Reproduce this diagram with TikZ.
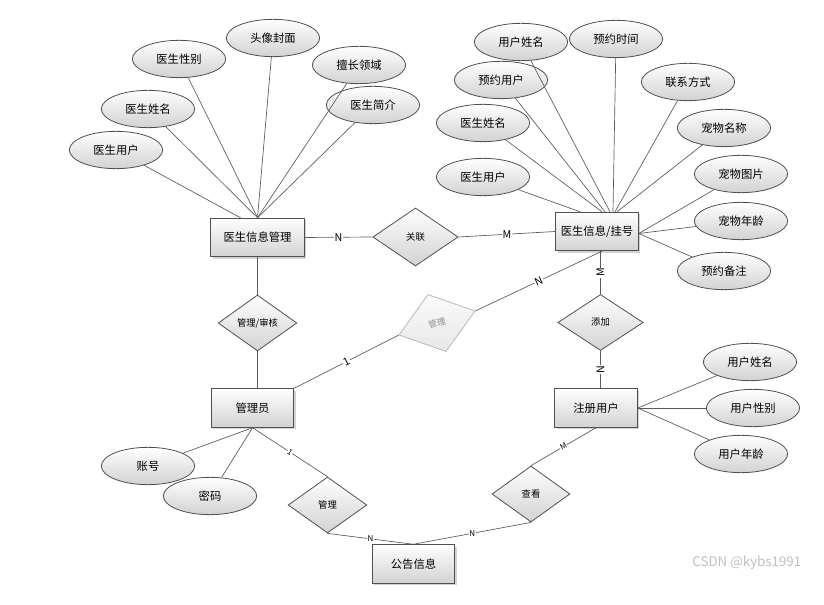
\documentclass[tikz,border=0pt]{standalone}
\usepackage{fontspec}
\setmainfont{Noto Sans CJK SC}
\usetikzlibrary{shapes.geometric,shadows,calc}
\definecolor{ln}{HTML}{5A5A5A}
\definecolor{bd}{HTML}{505050}
\definecolor{shd}{HTML}{D2D2D2}
\tikzset{
  ent/.style={rectangle, draw=bd, line width=0.6pt, top color=white, bottom color=shd,
    minimum width=62pt, minimum height=29pt, inner sep=1pt, font=\fontsize{8.5}{10}\selectfont,
    drop shadow={shadow xshift=1.5pt, shadow yshift=-1.5pt, opacity=0.35, fill=gray}},
  attr/.style={ellipse, draw=bd, line width=0.6pt, top color=white, bottom color=shd,
    minimum width=70pt, minimum height=28pt, inner sep=0pt, font=\fontsize{8.5}{10}\selectfont},
  rel/.style={diamond, draw=bd, line width=0.6pt, top color=white, bottom color=shd,
    minimum width=63pt, minimum height=42pt, inner sep=0pt, font=\fontsize{7}{8}\selectfont},
  con/.style={draw=ln, line width=0.5pt},
  lbl/.style={fill=white, inner sep=0.6pt, font=\fontsize{8}{9}\selectfont},
  lbls/.style={fill=white, inner sep=0.4pt, font=\fontsize{6}{7}\selectfont},
  x=0.75pt, y=-0.75pt
}
\begin{document}
\begin{tikzpicture}
\useasboundingbox (0,0) rectangle (824,605);
% entities
\node[ent, minimum width=70pt] (dm) at (257.5,237.5) {医生信息管理};
\node[ent] (dr) at (597,231.5) {医生信息/挂号};
\node[ent] (admin) at (252.5,408) {管理员};
\node[ent] (zr) at (596,408) {注册用户};
\node[ent] (gg) at (413.5,564) {公告信息};
% relationships
\node[rel, minimum width=64pt, minimum height=43.5pt] (gl) at (415.5,237) {关联};
\node[rel, minimum width=59pt] (sh) at (257.5,323) {管理/审核};
\node[rel, minimum width=64pt] (tj) at (600.5,322.5) {添加};
\node[rel, minimum width=59pt] (mb) at (327.5,505) {管理};
\node[rel, minimum width=58.5pt] (ck) at (531,494) {查看};
\node[rel, rotate=17.5, draw=gray!55, top color=gray!4, bottom color=gray!18, text=gray!90,
      minimum width=60pt, minimum height=45pt, font=\fontsize{6.5}{7}\selectfont] (mg) at (437,323) {管理};
% attributes of 医生信息管理
\node[attr] (a1) at (116,150) {医生用户};
\node[attr] (a2) at (148,109) {医生姓名};
\node[attr] (a3) at (179,59) {医生性别};
\node[attr] (a4) at (273,38) {头像封面};
\node[attr] (a5) at (359,65) {擅长领域};
\node[attr] (a6) at (373,105) {医生简介};
% attributes of 医生信息/挂号
\node[attr] (r1) at (483,177) {医生用户};
\node[attr] (r2) at (483,123) {医生姓名};
\node[attr] (r3) at (501,80) {预约用户};
\node[attr] (r4) at (521,42) {用户姓名};
\node[attr] (r5) at (616,39) {预约时间};
\node[attr] (r6) at (688,82) {联系方式};
\node[attr] (r7) at (724,128) {宠物名称};
\node[attr] (r8) at (741,174) {宠物图片};
\node[attr] (r9) at (741,221) {宠物年龄};
\node[attr] (r10) at (724,271) {预约备注};
% attributes of 注册用户
\node[attr] (u1) at (750,362) {用户姓名};
\node[attr] (u2) at (753,408) {用户性别};
\node[attr] (u3) at (741,454) {用户年龄};
% attributes of 管理员
\node[attr] (p1) at (148,466) {账号};
\node[attr] (p2) at (210,496) {密码};
% attribute connectors
\draw[con] (a1) -- ($(dm.north)+(-17,0)$);
\foreach \n in {a2,a3,a4,a5,a6} \draw[con] (\n) -- (dm.north);
\draw[con] (r1) -- ($(dr.north)+(-17,0)$);
\draw[con] (r2) -- ($(dr.north)+(5,0)$);
\draw[con] (r3) -- ($(dr.north)+(8,0)$);
\draw[con] (r4) -- ($(dr.north)+(13,0)$);
\draw[con] (r5) -- ($(dr.north)+(16,0)$);
\draw[con] (r6) -- ($(dr.north)+(18,0)$);
\draw[con] (r7) -- ($(dr.north)+(20,0)$);
\foreach \n in {r8,r9,r10} \draw[con] (\n) -- ($(dr.east)+(0,2)$);
\foreach \n in {u1,u2,u3} \draw[con] (\n) -- (zr.east);
\foreach \n in {p1,p2} \draw[con] (\n) -- (admin.south);
% relationship connectors
\draw[con] (dm.east) -- node[lbl]{N} (gl.west);
\draw[con] (gl.east) -- node[lbl]{M} (dr.west);
\draw[con] (dm.south) -- (sh.north);
\draw[con] (sh.south) -- (sh.south |- admin.north);
\draw[con] (admin.north east) -- node[lbl, sloped]{1} (mg.west);
\draw[con] (mg.east) -- node[lbl, sloped]{N} ($(dr.south)+(5,0)$);
\draw[con] (tj.north) -- node[lbl, rotate=90]{M} (tj.north |- dr.south);
\draw[con] (tj.south) -- node[lbl, rotate=90]{N} (tj.south |- zr.north);
\draw[con] (admin.south) -- node[lbls, sloped]{1} (mb.north);
\draw[con] (mb.south) -- node[lbls]{N} (gg.north);
\draw[con] (gg.north) -- node[lbls]{N} (ck.south);
\draw[con] (ck.north) -- node[lbls, sloped]{M} (zr.south);
% watermark
\node[anchor=east, text=gray!50, font=\fontsize{10}{12}\selectfont] (wm) at (806,563) {CSDN @kybs1991};
\end{tikzpicture}
\end{document}
